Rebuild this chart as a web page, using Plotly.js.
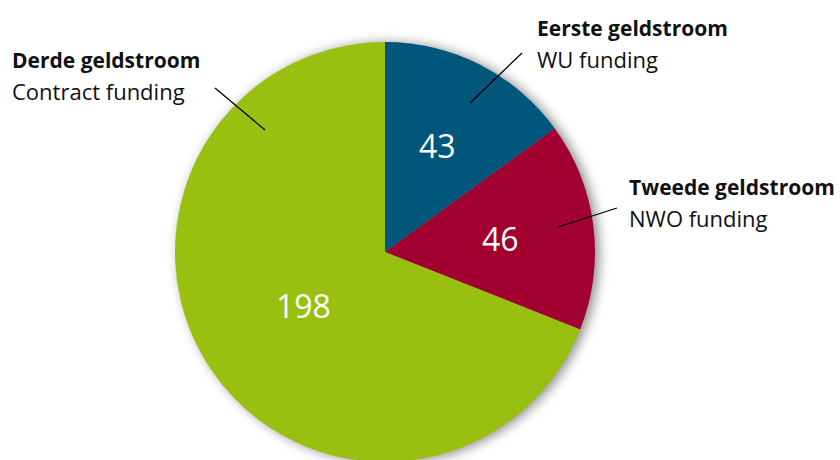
<!DOCTYPE html>
<html><head><meta charset="utf-8">
<script src="https://cdn.plot.ly/plotly-3.0.1.min.js"></script>
<style>
html,body{margin:0;padding:0;overflow:hidden;background:#fff;width:840px;height:460px;position:relative;}
#chart{position:absolute;left:0;top:0;width:840px;height:464px;z-index:1;}
#shadow{position:absolute;left:176px;top:43px;width:418px;height:418px;border-radius:50%;
  background:#888;box-shadow:4px 1px 12px 1px rgba(0,0,0,0.45);z-index:0;}
</style></head>
<body>
<div id="shadow"></div>
<div id="chart"></div>
<script>
const categories = ["Eerste geldstroom", "Tweede geldstroom", "Derde geldstroom"];
const subtitles = ["WU funding", "NWO funding", "Contract funding"];
const values = [43, 46, 198];
const colors = ["#00577b", "#a10030", "#99c010"];

const W = 840, H = 464;
const px = x => x / W;
const py = y => (H - y) / H;

const trace = {
  type: 'pie',
  labels: categories,
  values: values,
  sort: false,
  direction: 'clockwise',
  rotation: 0,
  marker: {colors: colors, line: {width: 0}},
  textinfo: 'none',
  hoverinfo: 'none',
  showlegend: false,
  domain: {x: [px(175), px(595)], y: [py(462), py(42)]}
};

const labelPos = [
  {x: 535, y1: 28, y2: 59},
  {x: 627, y1: 187, y2: 218},
  {x: 10, y1: 60, y2: 91}
];
const valuePos = [[437, 145], [500, 238], [303, 305]];
const annotations = [];
categories.forEach((c, i) => {
  const p = labelPos[i];
  annotations.push({text: '<b>' + c + '</b>', x: px(p.x), y: py(p.y1), xref: 'paper', yref: 'paper',
    xanchor: 'left', yanchor: 'middle', showarrow: false,
    font: {family: 'Open Sans, sans-serif', size: 21, color: '#111'}});
  annotations.push({text: subtitles[i], x: px(p.x), y: py(p.y2), xref: 'paper', yref: 'paper',
    xanchor: 'left', yanchor: 'middle', showarrow: false,
    font: {family: 'Open Sans, sans-serif', size: 22, color: '#111'}});
  annotations.push({text: String(values[i]), x: px(valuePos[i][0]), y: py(valuePos[i][1]), xref: 'paper', yref: 'paper',
    xanchor: 'center', yanchor: 'middle', showarrow: false,
    font: {family: 'Open Sans, sans-serif', size: 32, color: '#ffffff'}});
});

const leaders = [[470, 103, 522, 53], [558, 227, 617, 208], [215, 88, 265, 130]];
const shapes = leaders.map(l => ({type: 'line', xref: 'paper', yref: 'paper',
  x0: px(l[0]), y0: py(l[1]), x1: px(l[2]), y1: py(l[3]),
  line: {color: '#000', width: 1.3}}));

const layout = {
  width: W, height: H,
  margin: {l: 0, r: 0, t: 0, b: 0},
  paper_bgcolor: 'rgba(0,0,0,0)',
  plot_bgcolor: 'rgba(0,0,0,0)',
  annotations: annotations,
  shapes: shapes
};
Plotly.newPlot('chart', [trace], layout, {displayModeBar: false, staticPlot: true});
</script></body></html>
